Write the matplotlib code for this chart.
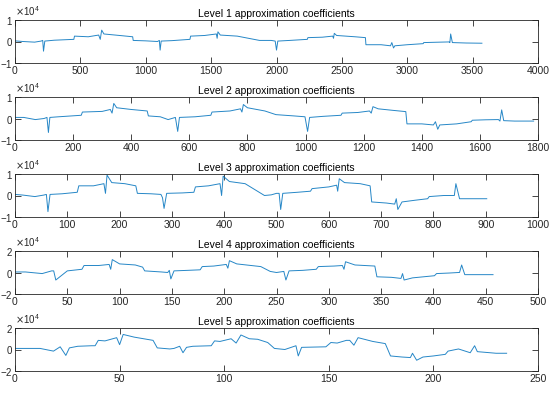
import numpy as np
import matplotlib
matplotlib.use('Agg')
import matplotlib.pyplot as plt
from matplotlib.ticker import ScalarFormatter

plt.rcParams['font.family'] = ['Liberation Sans Narrow', 'Liberation Sans', 'DejaVu Sans']
plt.rcParams['axes.unicode_minus'] = False

# breakpoints, y in units of 1e4
l1_x = [0, 60, 150, 200, 212, 218, 228, 300, 450, 455, 560, 640, 652, 663, 680, 800, 900, 904,
        1000, 1090, 1104, 1110, 1118, 1200, 1338, 1343, 1450, 1540, 1546, 1552, 1570, 1700, 1870,
        1960, 1990, 2000, 2010, 2100, 2236, 2240, 2350, 2430, 2436, 2442, 2460, 2600, 2680, 2684,
        2800, 2872, 2882, 2895, 2905, 3000, 3122, 3126, 3250, 3320, 3326, 3332, 3345, 3450, 3571]
l1_y = [0.03, 0.0, -0.03, 0.02, 0.05, -0.45, 0.02, 0.06, 0.1, 0.25, 0.22, 0.3, 0.1, 0.53, 0.35,
        0.28, 0.22, 0.05, 0.03, 0.0, 0.05, -0.4, 0.02, 0.04, 0.1, 0.25, 0.28, 0.35, 0.15, 0.45,
        0.3, 0.25, 0.05, 0.05, 0.02, -0.4, 0.02, 0.05, 0.1, 0.18, 0.2, 0.25, 0.15, 0.38, 0.28,
        0.22, 0.18, -0.15, -0.15, -0.2, -0.05, -0.3, -0.2, -0.15, -0.1, -0.05, -0.03, -0.02,
        -0.05, 0.35, -0.05, -0.07, -0.08]

l2_x = [0, 30, 70, 100, 110, 115, 120, 150, 228, 232, 300, 328, 334, 340, 350, 400, 455, 459,
        500, 527, 552, 560, 566, 620, 674, 678, 740, 776, 781, 786, 800, 860, 898, 960, 998,
        1007, 1014, 1060, 1122, 1126, 1180, 1220, 1226, 1232, 1250, 1300, 1345, 1349, 1400,
        1440, 1447, 1455, 1462, 1520, 1570, 1574, 1620, 1664, 1669, 1675, 1682, 1720, 1785]
l2_y = [0.05, 0.05, -0.05, 0.0, 0.05, -0.65, 0.05, 0.08, 0.15, 0.3, 0.33, 0.42, 0.25, 0.7, 0.5,
        0.42, 0.35, 0.12, 0.08, -0.05, 0.05, -0.6, 0.05, 0.08, 0.15, 0.3, 0.35, 0.45, 0.3, 0.65,
        0.5, 0.35, 0.18, 0.12, 0.08, -0.6, 0.05, 0.1, 0.15, 0.25, 0.28, 0.35, 0.25, 0.55, 0.45,
        0.38, 0.32, -0.25, -0.25, -0.3, -0.15, -0.5, -0.3, -0.25, -0.15, -0.08, -0.06, -0.05,
        -0.12, 0.4, -0.1, -0.12, -0.12]

l3_x = [0, 15, 38, 55, 60, 63, 67, 90, 119, 122, 150, 170, 173, 176, 185, 210, 231, 234, 260,
        279, 282, 285, 290, 320, 342, 345, 370, 392, 395, 398, 410, 440, 477, 490, 500, 505, 508,
        512, 540, 565, 568, 600, 615, 617, 620, 630, 660, 679, 682, 710, 726, 729, 732, 740, 765,
        789, 792, 820, 838, 840, 843, 850, 870, 902]
l3_y = [0.05, 0.02, -0.05, 0.02, 0.05, -0.75, 0.05, 0.08, 0.15, 0.45, 0.45, 0.55, 0.1, 0.95, 0.6,
        0.55, 0.45, 0.1, 0.08, 0.05, -0.1, -0.6, 0.1, 0.12, 0.15, 0.4, 0.45, 0.55, 0.0, 0.9, 0.65,
        0.55, 0.0, 0.03, 0.1, 0.1, -0.65, 0.1, 0.15, 0.2, 0.32, 0.4, 0.48, 0.2, 0.78, 0.6, 0.55,
        0.45, -0.3, -0.35, -0.4, -0.15, -0.65, -0.3, -0.22, -0.15, -0.05, 0.0, 0.0, 0.0, 0.55,
        -0.15, -0.15, -0.15]

l4_x = [0, 10, 26, 35, 37, 39, 50, 64, 66, 80, 90, 91.5, 93, 100, 115, 122, 124, 140, 146,
        147.5, 149, 152, 165, 177, 179, 190, 202, 203.5, 205, 212, 235, 244, 250, 257, 259, 262,
        275, 288, 290, 305, 313, 314.5, 316, 325, 344, 346, 360, 369, 370.5, 372, 380, 401, 403,
        415, 424, 425, 427, 430, 445, 457]
l4_y = [0.05, 0.05, -0.1, 0.15, 0.15, -0.7, 0.15, 0.3, 0.65, 0.65, 0.75, 0.3, 1.2, 0.8, 0.7,
        0.5, 0.15, 0.05, 0.0, 0.2, -0.6, 0.15, 0.2, 0.25, 0.55, 0.6, 0.75, 0.4, 1.1, 0.8, 0.55,
        0.1, 0.0, 0.1, -0.7, 0.15, 0.2, 0.3, 0.55, 0.6, 0.65, 0.3, 1.0, 0.7, 0.6, -0.4, -0.45,
        -0.55, -0.1, -0.7, -0.5, -0.3, -0.1, -0.05, 0.0, 0.0, 0.7, -0.2, -0.2, -0.2]

l5_x = [0, 12, 18.4, 21.6, 24.3, 26, 30, 36.7, 38.3, 39.8, 43, 48.6, 50, 51.7, 57, 66, 68, 74,
        76, 78.7, 80.3, 82, 85, 93.8, 95.4, 98, 103.3, 105.7, 108, 112, 116, 120.8, 124, 129,
        134.3, 135.4, 137, 148.6, 151, 154, 158.4, 160, 162, 164, 171, 177, 179.5, 185, 189,
        190, 192, 195, 200, 205.7, 207, 212, 217.6, 219.7, 221, 230, 235]
l5_y = [0.1, 0.1, -0.15, 0.25, -0.55, 0.15, 0.3, 0.35, 0.35, 0.85, 0.8, 1.1, 0.45, 1.4, 1.15,
        0.85, 0.15, 0.05, 0.1, 0.3, -0.3, 0.2, 0.3, 0.35, 0.8, 0.75, 1.0, 0.6, 1.35, 1.0, 0.95,
        0.65, 0.1, 0.0, 0.35, -0.6, 0.2, 0.25, 0.65, 0.6, 0.85, 0.85, 0.4, 1.1, 0.75, 0.55,
        -0.6, -0.7, -0.75, -0.35, -1.0, -0.7, -0.6, -0.45, -0.15, 0.05, -0.3, 0.35, -0.2,
        -0.35, -0.35]

levels = [(l1_x, l1_y), (l2_x, l2_y), (l3_x, l3_y), (l4_x, l4_y), (l5_x, l5_y)]
xmax = [4000, 1800, 1000, 500, 250]
xstep = [500, 200, 100, 50, 50]
ylim = [1, 1, 1, 2, 2]

fig = plt.figure(figsize=(5.5, 3.93), dpi=100)
W, H = 550.0, 393.0
tops = [20, 97, 174, 251, 328]
ax_h = 43

for i, (xs, ys) in enumerate(levels):
    ax = fig.add_axes([15 / W, (H - tops[i] - ax_h) / H, 523 / W, ax_h / H])
    ax.plot(xs, np.array(ys) * 1e4, color='#0072BD', lw=0.7, alpha=0.85)
    ax.set_xlim(0, xmax[i])
    ax.set_ylim(-ylim[i] * 1e4, ylim[i] * 1e4)
    ax.set_xticks(np.arange(0, xmax[i] + 1, xstep[i]))
    ax.set_yticks([-ylim[i] * 1e4, 0, ylim[i] * 1e4])
    fmt = ScalarFormatter(useMathText=True)
    fmt.set_powerlimits((0, 0))
    ax.yaxis.set_major_formatter(fmt)
    ax.yaxis.get_offset_text().set_fontsize(7)
    ax.yaxis.get_offset_text().set_color('#262626')
    ax.tick_params(direction='in', length=4, width=0.6, labelsize=7.5, colors='#262626',
                   top=True, right=True, pad=2)
    ax.tick_params(axis='y', pad=1.5, labelsize=7)
    for s in ax.spines.values():
        s.set_linewidth(0.6)
        s.set_color('#262626')
    ax.set_title('Level %d approximation coefficients' % (i + 1), fontsize=7.5, pad=2.5,
                 color='black')

fig.savefig('out.png', dpi=100)
